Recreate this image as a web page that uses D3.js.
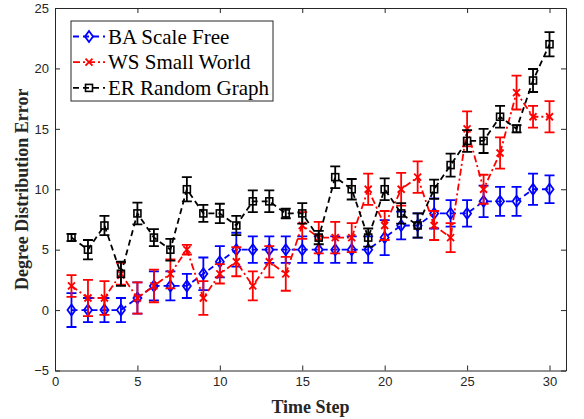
<!DOCTYPE html>
<html><head><meta charset="utf-8">
<script src="https://cdn.jsdelivr.net/npm/d3@7"></script>
<style>body{margin:0;background:#fff}svg{display:block}</style>
</head><body>
<svg id="c" width="584" height="419"></svg>
<script>
const steps = d3.range(1, 31);
const baValues = [0,0,0,0,1,2,2,2,3,4,5,5,5,5,5,5,5,5,5,6,7,7,8,8,8,9,9,9,10,10];
const baErrors = [1.4,1.0,1.0,1.0,1.3,1.2,1.2,1.0,1.35,1.3,1.4,1.1,1.1,1.1,1.1,1.1,1.1,1.1,1.1,1.45,1.15,1.0,1.25,1.1,1.1,1.3,1.2,1.2,1.3,1.15];
const wsValues = [2,1,1,3,1,2,3,5,1,3,4,2,4,3,7,6,6,6,10,7,10,11,7,6,15,10,13,18,16,16];
const wsErrors = [0.9,1.5,1.4,0.9,1.3,1.35,1.2,0.4,1.4,0.8,1.2,1.2,1.3,1.4,1.1,1.3,1.3,1.2,1.3,1.2,1.35,1.3,1.2,1.2,1.45,1.2,1.3,1.4,0.9,1.3];
const erValues = [6,5,7,3,8,6,5,10,8,8,7,9,9,8,8,6,11,10,6,10,8,7,10,12,14,14,16,15,19,22];
const erErrors = [0.3,0.8,0.8,1.0,0.9,0.7,0.9,1.0,0.7,0.8,0.8,0.9,0.9,0.4,0.85,0.55,0.9,0.85,0.75,0.9,0.85,1.0,0.8,0.95,0.9,1.0,0.9,0.3,0.95,1.0];
const seriesNames = ["BA Scale Free","WS Small World","ER Random Graph"];
const xTicks = [0,5,10,15,20,25,30];
const yTicks = [-5,0,5,10,15,20,25];

const svg = d3.select("#c");
const L = 55, R = 566, T = 8, B = 370.5;
const x = d3.scaleLinear().domain([0,31]).range([L,R]);
const y = d3.scaleLinear().domain([-5,25]).range([B,T]);
const axisColor = "#262626";

function styleAxis(g, labels){
  g.select(".domain").attr("stroke", axisColor).attr("stroke-width", 1);
  g.selectAll(".tick line").attr("stroke", axisColor).attr("stroke-width", 1);
  g.selectAll(".tick text").attr("fill", axisColor).attr("font-family","'Liberation Sans', Arial, sans-serif").attr("font-size", 13);
  if(!labels) g.selectAll(".tick text").remove();
}
svg.append("g").attr("transform",`translate(0,${B})`)
  .call(d3.axisBottom(x).tickValues(xTicks).tickSizeInner(-5).tickSizeOuter(0).tickPadding(6))
  .call(g=>styleAxis(g,true));
svg.append("g").attr("transform",`translate(0,${T})`)
  .call(d3.axisTop(x).tickValues(xTicks).tickSizeInner(-5).tickSizeOuter(0))
  .call(g=>styleAxis(g,false));
svg.append("g").attr("transform",`translate(${L},0)`)
  .call(d3.axisLeft(y).tickValues(yTicks).tickSizeInner(-5).tickSizeOuter(0).tickPadding(6))
  .call(g=>styleAxis(g,true));
svg.append("g").attr("transform",`translate(${R},0)`)
  .call(d3.axisRight(y).tickValues(yTicks).tickSizeInner(-5).tickSizeOuter(0))
  .call(g=>styleAxis(g,false));

svg.append("text").attr("x", (L+R)/2).attr("y", 413).attr("text-anchor","middle")
  .attr("font-family","'Liberation Serif','Times New Roman',serif").attr("font-weight","bold").attr("font-size",18)
  .attr("fill", axisColor).text("Time Step");
svg.append("text").attr("transform",`translate(28,${(T+B)/2}) rotate(-90)`).attr("text-anchor","middle")
  .attr("font-family","'Liberation Serif','Times New Roman',serif").attr("font-weight","bold").attr("font-size",18)
  .attr("fill", axisColor).text("Degree Distribution Error");

const series = [
  {name: seriesNames[0], vals: baValues, errs: baErrors, color: "#0000ff", marker: "diamond", dash: "6,4"},
  {name: seriesNames[1], vals: wsValues, errs: wsErrors, color: "#ff0000", marker: "cross", dash: "7,3,2,3"},
  {name: seriesNames[2], vals: erValues, errs: erErrors, color: "#000000", marker: "square", dash: "6,4"}
];

function drawMarker(g, type, cx, cy, color){
  if(type==="diamond"){
    g.append("path").attr("d",`M${cx},${cy-5.5}L${cx+4},${cy}L${cx},${cy+5.5}L${cx-4},${cy}Z`)
      .attr("fill","none").attr("stroke",color).attr("stroke-width",1.8);
  } else if(type==="square"){
    g.append("rect").attr("x",cx-3.5).attr("y",cy-3.5).attr("width",7).attr("height",7)
      .attr("fill","none").attr("stroke",color).attr("stroke-width",1.6);
  } else {
    g.append("path").attr("d",`M${cx-3.5},${cy-3.5}L${cx+3.5},${cy+3.5}M${cx-3.5},${cy+3.5}L${cx+3.5},${cy-3.5}`)
      .attr("fill","none").attr("stroke",color).attr("stroke-width",1.8);
  }
}

const plot = svg.append("g");
const line = d3.line().x(d=>x(d[0])).y(d=>y(d[1]));
series.forEach(s=>{
  const g = plot.append("g");
  const pts = steps.map((t,i)=>[t, s.vals[i], s.errs[i]]);
  g.append("path").datum(pts).attr("d", line).attr("fill","none")
    .attr("stroke", s.color).attr("stroke-width", 1.8).attr("stroke-dasharray", s.dash);
  pts.forEach(p=>{
    const cx = x(p[0]), y0 = y(p[1]-p[2]), y1 = y(p[1]+p[2]);
    g.append("path").attr("d",`M${cx},${y0}V${y1}M${cx-5},${y0}H${cx+5}M${cx-5},${y1}H${cx+5}`)
      .attr("fill","none").attr("stroke", s.color).attr("stroke-width", 1.8);
    drawMarker(g, s.marker, cx, y(p[1]), s.color);
  });
});

const lg = svg.append("g");
lg.append("rect").attr("x",71).attr("y",21).attr("width",202).attr("height",80)
  .attr("fill","#fff").attr("stroke",axisColor).attr("stroke-width",1);
series.forEach((s,i)=>{
  const cy = 36.5 + i*25.7;
  lg.append("line").attr("x1",73).attr("x2",105).attr("y1",cy).attr("y2",cy)
    .attr("stroke",s.color).attr("stroke-width",1.8).attr("stroke-dasharray", s.dash);
  drawMarker(lg, s.marker, 89, cy, s.color);
  lg.append("text").attr("x",108).attr("y",cy+7)
    .attr("font-family","'Liberation Serif','Times New Roman',serif").attr("font-size",21)
    .attr("fill","#000").text(s.name);
});
</script>
</body></html>
